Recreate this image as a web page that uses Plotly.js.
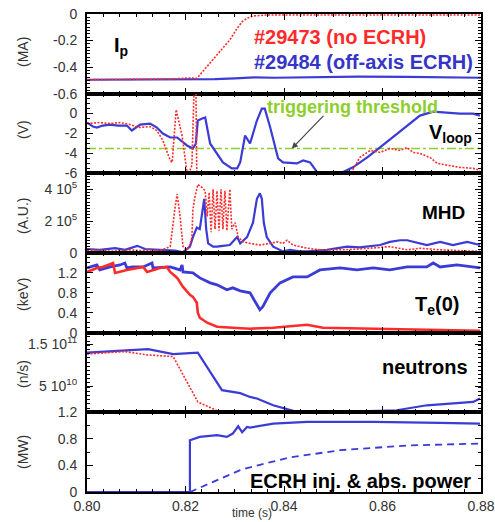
<!DOCTYPE html>
<html><head><meta charset="utf-8">
<script src="https://cdn.plot.ly/plotly-3.0.1.min.js"></script>
<style>html,body{margin:0;padding:0;background:#fff}#chart{width:495px;height:522px}</style>
</head><body><div id="chart"></div>
<script>
// ---- Plasma current Ip (MA)
const ipRedT = [0.800,0.806,0.812,0.816,0.819,0.8209,0.8223,0.8244,0.8264,0.8290,0.8305,0.8315,0.8325,0.8337,0.8365,0.845,0.855,0.865,0.875,0.880];
const ipRedV = [-0.495,-0.495,-0.494,-0.49,-0.486,-0.482,-0.485,-0.395,-0.307,-0.195,-0.107,-0.058,-0.032,-0.015,-0.008,-0.007,-0.007,-0.007,-0.007,-0.007];
const ipBlueT = [0.800,0.810,0.818,0.8223,0.826,0.830,0.834,0.838,0.845,0.855,0.865,0.875,0.880];
const ipBlueV = [-0.495,-0.495,-0.493,-0.49,-0.49,-0.485,-0.478,-0.48,-0.475,-0.472,-0.473,-0.476,-0.48];

// ---- Loop voltage (V)
const vlBlueT = [0.8000,0.8012,0.8020,0.8032,0.8047,0.8063,0.8081,0.8091,0.8108,0.8128,0.8142,0.8154,0.8169,0.8183,0.8203,0.8215,0.8221,0.8225,0.8234,0.8240,0.8250,0.8264,0.8276,0.8294,0.8305,0.8311,0.8321,0.8331,0.8345,0.8355,0.8361,0.8372,0.8388,0.8398,0.8426,0.8439,0.8453,0.8469,0.8483,0.8504,0.8514,0.8540,0.8569,0.8595,0.8621,0.8650,0.8676,0.8703,0.8731,0.8757,0.8784,0.8798];
const vlBlueV = [-0.9,-1.3,-1.4,-1.2,-1.1,-1.2,-1.2,-1.7,-1.1,-1.0,-1.4,-2.0,-2.4,-2.4,-3.2,-3.5,-3.0,-0.7,-0.5,-0.4,-3.0,-4.0,-4.9,-5.5,-5.5,-4.9,-2.2,-3.0,-0.7,0.5,0.5,-1.4,-4.5,-4.9,-5.0,-4.7,-4.9,-6.0,-6.5,-6.5,-6.0,-5.4,-4.4,-3.4,-2.4,-1.2,-0.2,0.2,0.1,0.0,0.0,-0.2];
const vlRedT = [0.8000,0.8026,0.8047,0.8067,0.8087,0.8108,0.8128,0.8142,0.8154,0.8169,0.8173,0.8181,0.8193,0.8203,0.8209,0.8213,0.8217,0.8219,0.8221,0.8223,0.8227,0.8520,0.8538,0.8554,0.8575,0.8595,0.8615,0.8636,0.8650,0.8662,0.8676,0.8696,0.8711,0.8731,0.8757,0.8784,0.8798];
const vlRedV = [-1.0,-0.9,-1.0,-0.9,-1.1,-1.4,-1.3,-1.7,-2.7,-4.7,-4.9,0.4,-2.2,-5.9,-5.7,-5.2,1.8,3.0,3.0,-6.5,-8,-8,-5.8,-4.4,-3.7,-3.9,-3.5,-3.7,-3.4,-3.9,-4.0,-4.4,-5.0,-5.2,-5.4,-5.5,-5.7];
const threshold = -3.5;

// ---- MHD amplitude (A.U.)
const mhdBlueT = [0.8000,0.8026,0.8057,0.8077,0.8102,0.8118,0.8148,0.8179,0.8195,0.8209,0.8215,0.8223,0.8229,0.8236,0.8238,0.8242,0.8246,0.8256,0.8264,0.8276,0.8290,0.8305,0.8311,0.8325,0.8331,0.8337,0.8345,0.8351,0.8355,0.8359,0.8365,0.8378,0.8398,0.8412,0.8432,0.8447,0.8487,0.8528,0.8554,0.8595,0.8615,0.8636,0.8650,0.8676,0.8690,0.8717,0.8743,0.8772,0.8798];
const mhdBlueV = [25000,20000,30000,20000,45000,25000,20000,15000,5000,40000,100000,160000,150000,320000,340000,150000,60000,40000,40000,45000,50000,100000,60000,100000,150000,190000,340000,375000,340000,190000,100000,40000,10000,20000,10000,10000,20000,40000,35000,50000,70000,80000,80000,60000,50000,70000,50000,70000,50000];
const mhdRedT = [0.8000,0.8026,0.8047,0.8067,0.8087,0.8108,0.8128,0.8148,0.8169,0.8179,0.8183,0.8189,0.8195,0.8203,0.8209,0.8213,0.8215,0.8219,0.8225,0.8234,0.8240,0.8244,0.8248,0.8252,0.8256,0.8260,0.8264,0.8268,0.8272,0.8276,0.8280,0.8284,0.8290,0.8294,0.8301,0.8307,0.8317,0.8331,0.8351,0.8372,0.8386,0.8398,0.8406,0.8418,0.8447,0.8473,0.8514,0.8554,0.8581,0.8615,0.8650,0.8676,0.8717,0.8757,0.8784,0.8798];
const mhdRedV = [15000,20000,10000,15000,20000,15000,20000,15000,40000,290000,370000,230000,40000,20000,50000,100000,270000,350000,430000,410000,390000,230000,380000,130000,400000,150000,390000,140000,400000,150000,390000,140000,400000,150000,190000,100000,70000,60000,50000,60000,70000,60000,80000,50000,30000,20000,20000,25000,30000,40000,20000,30000,20000,15000,10000,10000];

// ---- Central electron temperature Te(0) (keV)
const teBlueT = [0.8000,0.8020,0.8026,0.8047,0.8067,0.8077,0.8081,0.8093,0.8114,0.8132,0.8134,0.8154,0.8169,0.8189,0.8193,0.8195,0.8215,0.8229,0.8250,0.8264,0.8284,0.8296,0.8311,0.8331,0.8341,0.8351,0.8357,0.8372,0.8392,0.8418,0.8447,0.8473,0.8514,0.8548,0.8581,0.8615,0.8650,0.8690,0.8703,0.8717,0.8751,0.8784,0.8798];
const teBlueV = [1.3,1.36,1.26,1.32,1.36,1.4,1.3,1.32,1.32,1.4,1.3,1.32,1.32,1.26,1.36,1.22,1.2,1.1,1.0,0.96,0.86,0.9,0.84,0.8,0.62,0.46,0.52,0.8,1.0,1.12,1.12,1.26,1.3,1.26,1.3,1.26,1.32,1.32,1.4,1.32,1.36,1.32,1.3];
const teRedT = [0.8000,0.8020,0.8032,0.8053,0.8057,0.8081,0.8114,0.8122,0.8148,0.8162,0.8169,0.8183,0.8195,0.8209,0.8215,0.8223,0.8225,0.8229,0.8244,0.8264,0.8296,0.8331,0.8378,0.8447,0.8479,0.8581,0.8717,0.8798];
const teRedV = [1.22,1.3,1.32,1.4,1.2,1.26,1.32,1.22,1.3,1.32,1.22,1.1,0.92,0.76,0.72,0.6,0.4,0.3,0.2,0.12,0.1,0.08,0.1,0.16,0.1,0.08,0.06,0.04];

// ---- Neutron rate (n/s)
const neuBlueT = [0.8000,0.8124,0.8175,0.8225,0.8274,0.8311,0.8331,0.8345,0.8378,0.8426,0.8514,0.8629,0.8690,0.8784,0.8798];
const neuBlueV = [1.306e11,1.388e11,1.268e11,1.306e11,4.09e10,3.37e10,2.48e10,2.1e10,4.8e9,-1.1e10,-1.1e10,-7e9,4.8e9,1.28e10,2.1e10];
const neuRedT = [0.8000,0.8077,0.8122,0.8175,0.8225,0.8270];
const neuRedV = [1.27e11,1.33e11,1.25e11,1.21e11,1.28e10,-1.1e10];

// ---- ECRH injected & absorbed power (MW)
const ecInjT = [0.800,0.8209,0.8209,0.8229,0.8264,0.8284,0.8296,0.8307,0.8315,0.8325,0.8331,0.8378,0.8447,0.8581,0.8717,0.8798];
const ecInjV = [0,0,0.78,0.83,0.855,0.83,0.88,0.99,0.9,0.98,0.97,1.03,1.055,1.055,1.04,1.03];
const ecAbsT = [0.8209,0.8250,0.8311,0.8351,0.8412,0.8514,0.8650,0.8798];
const ecAbsV = [0,0.13,0.33,0.41,0.52,0.63,0.70,0.73];

// ---- tick labels
const xTicks = [0.80,0.82,0.84,0.86,0.88];
const ipTicks = [0,-0.2,-0.4,-0.6], ipText = ['0','-0.2','-0.4','-0.6'];
const vlTicks = [0,-2,-4,-6], vlText = ['0','-2','-4','-6'];
const mhdTicks = [0,2e5,4e5], mhdText = ['0','2 10<sup>5</sup>','4 10<sup>5</sup>'];
const teTicks = [0,0.4,0.8,1.2], teText = ['0','0.4','0.8','1.2'];
const neuTicks = [5e10,1.5e11], neuText = ['5 10<sup>10</sup>','1.5 10<sup>11</sup>'];
const ecTicks = [0,0.4,0.8,1.2], ecText = ['0','0.4','0.8','1.2'];

const RED = '#ff2a2a', BLUE = '#3b3bd6', GREEN = '#8ccf2c';
const FONT = 'Liberation Sans, Arial, sans-serif';
const redDot = {color: RED, width: 1.6, dash: '2px,1.5px'};
const blueLine = {color: BLUE, width: 2.2};

const traces = [
  {x: ipBlueT, y: ipBlueV, xaxis:'x', yaxis:'y', line: blueLine},
  {x: ipRedT, y: ipRedV, xaxis:'x', yaxis:'y', line: redDot},
  {x: [0.80,0.88], y: [threshold,threshold], xaxis:'x2', yaxis:'y2', line:{color: GREEN, width:1.5, dash:'dashdot'}},
  {x: vlBlueT, y: vlBlueV, xaxis:'x2', yaxis:'y2', line: blueLine},
  {x: vlRedT, y: vlRedV, xaxis:'x2', yaxis:'y2', line: redDot},
  {x: mhdBlueT, y: mhdBlueV, xaxis:'x3', yaxis:'y3', line: blueLine},
  {x: mhdRedT, y: mhdRedV, xaxis:'x3', yaxis:'y3', line: redDot},
  {x: teBlueT, y: teBlueV, xaxis:'x4', yaxis:'y4', line: {color: BLUE, width: 2.8}},
  {x: teRedT, y: teRedV, xaxis:'x4', yaxis:'y4', line: {color: RED, width: 2.6}},
  {x: neuBlueT, y: neuBlueV, xaxis:'x5', yaxis:'y5', line: blueLine},
  {x: neuRedT, y: neuRedV, xaxis:'x5', yaxis:'y5', line: redDot},
  {x: ecInjT, y: ecInjV, xaxis:'x6', yaxis:'y6', line: blueLine},
  {x: ecAbsT, y: ecAbsV, xaxis:'x6', yaxis:'y6', line: {color: BLUE, width: 1.8, dash: '7px,5px'}}
].map(t => Object.assign({type:'scatter', mode:'lines', showlegend:false, hoverinfo:'skip'}, t));

const tickFont = {family: FONT, size: 14, color: '#333'};
function xax(i){
  return {domain:[0,1], anchor: 'y'+(i===1?'':i), range:[0.80,0.88], matches: i===1?undefined:'x',
    showline:true, linecolor:'#000', linewidth:2, mirror:'ticks', ticks:'inside', ticklen:6, tickcolor:'#000',
    tickmode:'array', tickvals:xTicks, tickformat:'.2f', showticklabels: i===6, tickfont: tickFont,
    showgrid:false, zeroline:false,
    minor:{ticks:'inside', tickmode:'linear', tick0:0.80, dtick:0.02/6, ticklen:3, tickcolor:'#000'}};
}
function yax(i, range, tv, tt, mdt){
  const h = 1/6;
  return {domain:[(6-i)*h, (7-i)*h], anchor: 'x'+(i===1?'':i), range: range,
    showline:true, linecolor:'#000', linewidth:2, mirror:'ticks', ticks:'inside', ticklen:6, tickcolor:'#000',
    tickmode:'array', tickvals: tv, ticktext: tt, tickfont: tickFont, ticklabelstandoff: 5,
    showgrid:false, zeroline:false,
    minor:{ticks:'inside', tickmode:'linear', tick0: range[0], dtick: mdt, ticklen:3, tickcolor:'#000'}};
}

function ann(text, xp, yp, size, color, extra){
  return Object.assign({xref:'paper', yref:'paper', x:xp, y:yp, xanchor:'left', yanchor:'middle',
    text:text, showarrow:false, font:{family:FONT, size:size, color:color}}, extra||{});
}
function ytitle(text, yp){
  return {xref:'paper', yref:'paper', x:-0.1624, y:yp, xanchor:'center', yanchor:'middle', textangle:-90,
    text:text, showarrow:false, font:{family:FONT, size:14, color:'#333'}};
}

const layout = {
  width:495, height:522, margin:{l:87, r:14, t:14, b:30},
  paper_bgcolor:'#fff', plot_bgcolor:'#fff', showlegend:false,
  xaxis: xax(1), xaxis2: xax(2), xaxis3: xax(3), xaxis4: xax(4), xaxis5: xax(5), xaxis6: xax(6),
  yaxis: yax(1, [-0.6, 0], ipTicks, ipText, 0.025),
  yaxis2: yax(2, [-6, 2], vlTicks, vlText, 0.5),
  yaxis3: yax(3, [0, 5e5], mhdTicks, mhdText, 2e4),
  yaxis4: yax(4, [0, 1.6], teTicks, teText, 0.1),
  yaxis5: yax(5, [-1.2e10, 1.78e11], neuTicks, neuText, 1e10),
  yaxis6: yax(6, [0, 1.2], ecTicks, ecText, 0.2),
  annotations: [
    ann('<b>I<sub>p</sub></b>', 0.0635, 0.931, 20, '#000'),
    ann('<b>#29473 (no ECRH)</b>', 0.4188, 0.9519, 20, '#ff2a2a'),
    ann('<b>#29484 (off-axis ECRH)</b>', 0.4188, 0.8996, 20, '#3535c8'),
    ann('<b>triggering threshold</b>', 0.4518, 0.8054, 18, GREEN),
    ann('<b>V<sub>loop</sub></b>', 0.8629, 0.751, 20, '#000'),
    ann('<b>MHD</b>', 0.8452, 0.5837, 19, '#000'),
    ann('<b>T<sub>e</sub>(0)</b>', 0.8274, 0.3912, 20, '#000'),
    ann('<b>neutrons</b>', 0.7437, 0.2615, 20, '#000'),
    ann('<b>ECRH inj. &amp; abs. power</b>', 0.4086, 0.0230, 20, '#000'),
    ann('time (s)', 0.4188, -0.0439, 12, '#333', {xanchor:'center'}),
    {xref:'x2', yref:'y2', x:0.8416, y:threshold, ax:33, ay:-34, text:'', showarrow:true,
      arrowhead:2, arrowsize:1, arrowwidth:1.2, arrowcolor:'#444'},
    ytitle('(MA)', 0.9205), ytitle('(V)', 0.7573), ytitle('(A.U.)', 0.5774),
    ytitle('(keV)', 0.4121), ytitle('(n/s)', 0.2469), ytitle('(MW)', 0.0837)
  ]
};

Plotly.newPlot('chart', traces, layout, {staticPlot:true, displayModeBar:false});
</script>
</body></html>
